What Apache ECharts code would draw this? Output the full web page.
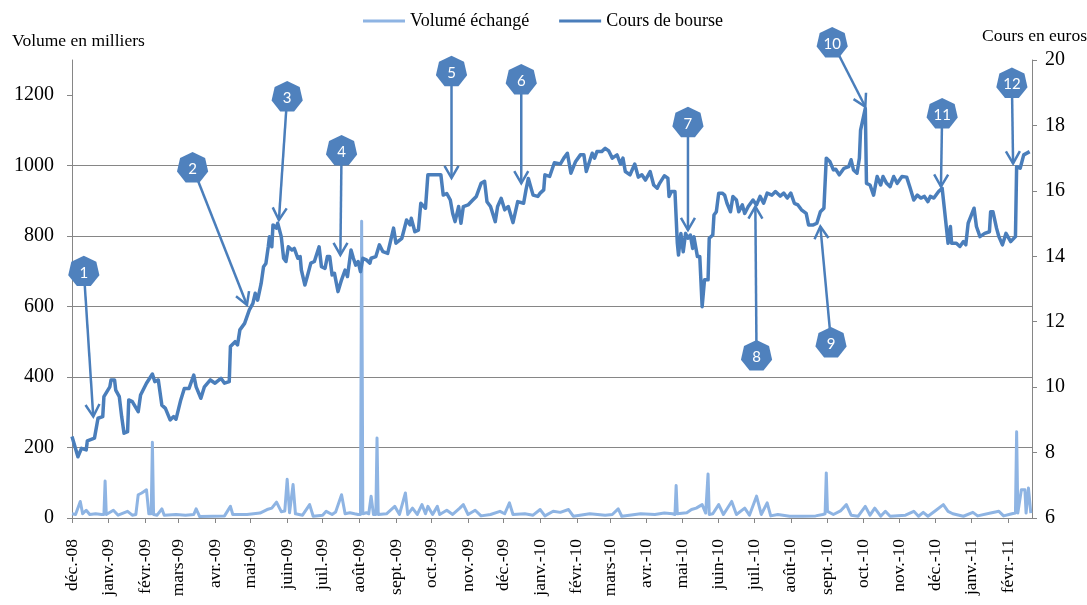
<!DOCTYPE html>
<html>
<head>
<meta charset="utf-8">
<script src="https://cdn.jsdelivr.net/npm/echarts@6/dist/echarts.min.js"></script>
<style>
html,body{margin:0;padding:0;background:#fff;}
#chart{width:1087px;height:605px;}
</style>
</head>
<body>
<div id="chart"></div>
<script>
// ---- Tick labels ----
const monthLabels = ['déc.-08','janv.-09','févr.-09','mars-09','avr.-09','mai-09','juin-09','juil.-09','août-09','sept.-09','oct.-09','nov.-09','déc.-09','janv.-10','févr.-10','mars-10','avr.-10','mai-10','juin-10','juil.-10','août-10','sept.-10','oct.-10','nov.-10','déc.-10','janv.-11','févr.-11'];
const volumeTicks = [0, 200, 400, 600, 800, 1000, 1200];
const axisStart = '2008-12-01';
const axisEnd = '2011-02-21';

// ---- Series: Cours de bourse (euros) ----
const coursBourse = [
['2008-12-01',8.49],['2008-12-06',7.87],['2008-12-09',8.13],['2008-12-13',8.08],['2008-12-14',8.36],['2008-12-20',8.44],['2008-12-23',9.05],['2008-12-27',9.10],['2008-12-28',9.71],
['2009-01-02',10.01],['2009-01-03',10.22],['2009-01-06',10.22],['2009-01-07',9.91],['2009-01-10',9.71],['2009-01-12',9.10],['2009-01-14',8.59],['2009-01-17',8.64],['2009-01-18',9.61],['2009-01-21',9.56],['2009-01-26',9.25],['2009-01-28',9.76],
['2009-02-02',10.12],['2009-02-07',10.40],['2009-02-09',10.17],['2009-02-12',10.22],['2009-02-15',9.45],['2009-02-18',9.35],['2009-02-22',9.00],['2009-02-25',9.10],['2009-02-27',9.02],
['2009-03-03',9.61],['2009-03-06',9.96],['2009-03-10',9.96],['2009-03-14',10.37],['2009-03-16',10.01],['2009-03-20',9.66],['2009-03-23',10.01],['2009-03-28',10.22],
['2009-04-01',10.12],['2009-04-06',10.27],['2009-04-09',10.12],['2009-04-13',10.17],['2009-04-14',11.24],['2009-04-18',11.39],['2009-04-20',11.29],['2009-04-22',11.75],['2009-04-26',11.95],['2009-04-27',11.90],['2009-04-30',12.36],
['2009-05-03',12.56],['2009-05-05',12.87],['2009-05-07',12.66],['2009-05-10',13.17],['2009-05-12',13.68],['2009-05-14',13.78],['2009-05-16',14.29],['2009-05-17',14.60],['2009-05-19',14.29],['2009-05-20',14.96],['2009-05-23',14.86],['2009-05-24',15.01],['2009-05-27',14.60],['2009-05-29',13.94],['2009-05-31',13.84],
['2009-06-02',14.29],['2009-06-05',14.19],['2009-06-07',14.24],['2009-06-10',13.94],['2009-06-12',13.99],['2009-06-13',13.58],['2009-06-16',13.12],['2009-06-18',13.38],['2009-06-21',13.79],['2009-06-24',13.84],['2009-06-28',14.29],['2009-06-30',13.68],
['2009-07-03',13.63],['2009-07-05',13.99],['2009-07-07',13.99],['2009-07-09',13.43],['2009-07-11',13.48],['2009-07-14',12.92],['2009-07-17',13.28],['2009-07-20',13.58],['2009-07-22',13.38],['2009-07-25',14.19],['2009-07-27',13.94],['2009-07-29',13.73],['2009-07-31',13.84],
['2009-08-02',13.53],['2009-08-04',13.94],['2009-08-07',13.89],['2009-08-10',13.79],['2009-08-11',13.94],['2009-08-15',13.99],['2009-08-18',14.35],['2009-08-21',14.14],['2009-08-25',14.09],['2009-08-30',14.86],
['2009-09-01',14.40],['2009-09-06',14.55],['2009-09-10',15.11],['2009-09-13',14.96],['2009-09-14',15.16],['2009-09-17',14.75],['2009-09-20',14.80],['2009-09-22',15.62],['2009-09-26',15.47],['2009-09-28',16.49],
['2009-10-04',16.49],['2009-10-09',16.49],['2009-10-11',15.87],['2009-10-14',15.92],['2009-10-17',15.72],['2009-10-19',15.31],['2009-10-21',15.06],['2009-10-24',15.52],['2009-10-26',15.01],['2009-10-28',15.52],
['2009-11-01',15.57],['2009-11-05',15.72],['2009-11-08',15.83],['2009-11-12',16.23],['2009-11-15',16.29],['2009-11-17',15.67],['2009-11-20',15.52],['2009-11-24',15.06],['2009-11-26',15.52],['2009-11-29',15.77],
['2009-12-02',15.42],['2009-12-05',15.52],['2009-12-09',15.03],['2009-12-13',15.67],['2009-12-18',15.62],['2009-12-20',16.03],['2009-12-22',16.38],['2009-12-26',15.87],['2009-12-30',15.83],
['2010-01-01',15.93],['2010-01-04',16.03],['2010-01-05',16.49],['2010-01-09',16.44],['2010-01-13',16.86],['2010-01-18',16.82],['2010-01-21',17.00],['2010-01-24',17.15],['2010-01-27',16.54],['2010-01-31',16.90],
['2010-02-04',17.10],['2010-02-07',17.10],['2010-02-09',16.59],['2010-02-14',17.15],['2010-02-16',17.00],['2010-02-18',17.20],['2010-02-22',17.20],['2010-02-25',17.30],['2010-02-28',17.22],
['2010-03-03',17.00],['2010-03-07',17.10],['2010-03-10',16.82],['2010-03-12',17.00],['2010-03-14',16.59],['2010-03-18',16.49],['2010-03-22',16.82],['2010-03-25',16.42],['2010-03-28',16.49],['2010-03-31',16.33],
['2010-04-04',16.59],['2010-04-07',16.18],['2010-04-10',16.08],['2010-04-12',16.23],['2010-04-16',16.46],['2010-04-19',16.39],['2010-04-20',15.83],['2010-04-22',15.98],['2010-04-25',15.98],['2010-04-27',14.40],['2010-04-28',14.04],['2010-04-30',14.70],
['2010-05-02',14.14],['2010-05-04',14.70],['2010-05-06',14.55],['2010-05-08',14.65],['2010-05-10',14.24],['2010-05-11',14.60],['2010-05-14',13.99],['2010-05-16',13.99],['2010-05-18',12.46],['2010-05-20',13.28],['2010-05-23',13.28],['2010-05-24',14.55],['2010-05-27',14.65],['2010-05-28',15.26],['2010-05-30',15.36],
['2010-06-01',15.93],['2010-06-04',15.93],['2010-06-06',15.87],['2010-06-08',15.62],['2010-06-11',15.36],['2010-06-13',15.83],['2010-06-16',15.72],['2010-06-18',15.36],['2010-06-21',15.57],['2010-06-23',15.31],['2010-06-26',15.52],['2010-06-30',15.72],
['2010-07-03',15.57],['2010-07-06',15.83],['2010-07-09',15.62],['2010-07-12',15.93],['2010-07-16',15.87],['2010-07-19',15.98],['2010-07-23',15.84],['2010-07-26',15.93],['2010-07-29',15.78],
['2010-08-01',15.93],['2010-08-04',15.62],['2010-08-07',15.57],['2010-08-10',15.42],['2010-08-14',15.31],['2010-08-16',14.96],['2010-08-20',14.96],['2010-08-23',15.01],['2010-08-26',15.36],['2010-08-29',15.47],['2010-08-31',17.00],
['2010-09-03',16.90],['2010-09-06',16.64],['2010-09-08',16.66],['2010-09-11',16.49],['2010-09-15',16.69],['2010-09-19',16.74],['2010-09-21',16.95],['2010-09-23',16.64],['2010-09-26',16.54],['2010-09-28',17.00],['2010-09-29',17.86],
['2010-10-03',18.52],['2010-10-04',16.23],['2010-10-07',16.18],['2010-10-10',15.87],['2010-10-13',16.44],['2010-10-16',16.18],['2010-10-18',16.44],['2010-10-21',16.23],['2010-10-24',16.13],['2010-10-27',16.44],['2010-10-30',16.23],
['2010-11-03',16.44],['2010-11-07',16.42],['2010-11-10',16.08],['2010-11-13',15.72],['2010-11-16',15.87],['2010-11-19',15.78],['2010-11-22',15.83],['2010-11-25',15.67],['2010-11-27',15.83],['2010-11-30',15.78],
['2010-12-04',15.98],['2010-12-07',16.08],['2010-12-09',15.42],['2010-12-12',14.40],['2010-12-14',14.91],['2010-12-15',14.40],['2010-12-19',14.40],['2010-12-22',14.30],['2010-12-25',14.45],['2010-12-27',14.35],['2010-12-29',15.01],
['2011-01-03',15.47],['2011-01-05',14.91],['2011-01-08',14.60],['2011-01-12',14.70],['2011-01-16',14.75],['2011-01-17',15.36],['2011-01-19',15.36],['2011-01-22',14.86],['2011-01-24',14.60],['2011-01-27',14.35],['2011-01-30',14.70],
['2011-02-03',14.45],['2011-02-07',14.60],['2011-02-08',16.74],['2011-02-11',16.69],['2011-02-14',17.10],['2011-02-19',17.20]
];

// ---- Series: Volume échangé (milliers) ----
const volumeEchange = [
['2008-12-01',12],['2008-12-04',10],['2008-12-08',47],['2008-12-10',12],['2008-12-13',22],['2008-12-16',10],['2008-12-21',12],['2008-12-26',10],['2008-12-28',10],['2008-12-29',105],['2008-12-30',10],
['2009-01-05',22],['2009-01-09',8],['2009-01-17',19],['2009-01-21',8],['2009-01-24',10],['2009-01-26',66],['2009-01-29',71],['2009-02-02',80],['2009-02-04',12],['2009-02-06',12],['2009-02-07',215],['2009-02-08',10],['2009-02-11',8],['2009-02-15',26],['2009-02-17',8],['2009-02-27',10],
['2009-03-07',8],['2009-03-14',10],['2009-03-16',26],['2009-03-19',4],['2009-03-30',5],['2009-04-09',6],['2009-04-14',33],['2009-04-16',10],['2009-04-28',10],
['2009-05-09',14],['2009-05-15',24],['2009-05-19',28],['2009-05-23',45],['2009-05-27',18],['2009-05-30',20],['2009-06-01',110],['2009-06-03',15],['2009-06-04',20],['2009-06-06',95],['2009-06-08',12],['2009-06-14',8],['2009-06-20',38],['2009-06-23',5],
['2009-07-01',8],['2009-07-04',19],['2009-07-09',10],['2009-07-12',17],['2009-07-17',66],['2009-07-20',12],['2009-07-24',15],['2009-07-28',12],['2009-07-31',10],
['2009-08-02',10],['2009-08-03',842],['2009-08-04',12],['2009-08-07',15],['2009-08-09',12],['2009-08-11',62],['2009-08-13',10],['2009-08-15',10],['2009-08-16',227],['2009-08-17',10],['2009-08-24',12],['2009-08-31',33],
['2009-09-04',10],['2009-09-09',71],['2009-09-11',10],['2009-09-15',28],['2009-09-19',10],['2009-09-23',38],['2009-09-26',12],['2009-09-28',33],['2009-10-02',10],['2009-10-06',33],['2009-10-08',10],['2009-10-14',22],['2009-10-19',10],['2009-10-25',28],['2009-10-28',38],
['2009-11-01',10],['2009-11-07',22],['2009-11-12',6],['2009-11-20',10],['2009-11-28',19],['2009-12-02',12],['2009-12-06',43],['2009-12-09',10],['2009-12-19',12],['2009-12-26',8],
['2010-01-01',24],['2010-01-05',6],['2010-01-12',19],['2010-01-18',16],['2010-01-25',24],['2010-01-29',5],['2010-02-12',12],['2010-02-25',8],['2010-03-03',10],['2010-03-08',26],['2010-03-11',5],['2010-03-27',12],
['2010-04-08',10],['2010-04-16',14],['2010-04-23',12],['2010-04-25',10],['2010-04-26',92],['2010-04-27',12],['2010-05-05',15],['2010-05-09',24],['2010-05-13',28],['2010-05-18',38],['2010-05-21',14],['2010-05-22',12],['2010-05-23',125],['2010-05-24',10],['2010-05-27',12],
['2010-06-01',38],['2010-06-05',10],['2010-06-12',47],['2010-06-16',10],['2010-06-23',28],['2010-06-27',8],['2010-07-03',62],['2010-07-07',10],['2010-07-12',43],['2010-07-15',6],['2010-07-21',10],['2010-07-31',5],
['2010-08-11',5],['2010-08-22',6],['2010-08-28',10],['2010-08-30',12],['2010-08-31',128],['2010-09-01',19],['2010-09-06',10],['2010-09-12',20],['2010-09-17',38],['2010-09-21',8],['2010-09-27',5],
['2010-10-03',33],['2010-10-07',8],['2010-10-11',28],['2010-10-16',5],['2010-10-20',19],['2010-10-24',5],['2010-11-06',8],['2010-11-13',19],['2010-11-17',5],['2010-11-21',16],['2010-11-25',5],
['2010-12-01',20],['2010-12-08',38],['2010-12-12',19],['2010-12-16',12],['2010-12-25',5],
['2011-01-02',16],['2011-01-06',6],['2011-01-17',14],['2011-01-24',19],['2011-01-28',6],['2011-02-04',12],['2011-02-07',14],['2011-02-08',245],['2011-02-09',14],['2011-02-10',14],['2011-02-12',80],['2011-02-15',80],['2011-02-16',14],['2011-02-18',85],['2011-02-20',14]
];

// ---- Numbered annotations (label position -> arrow tip), in date / euro coordinates ----
const annotationLabels = ['1','2','3','4','5','6','7','8','9','10','11','12'];
const annotationFrom = [['2008-12-11',13.56],['2009-03-13',16.73],['2009-06-01',18.90],['2009-07-17',17.25],['2009-10-18',19.67],['2009-12-16',19.42],['2010-05-06',18.11],['2010-07-03',10.98],['2010-09-04',11.38],['2010-09-05',20.55],['2010-12-07',18.38],['2011-02-04',19.31]];
const annotationTo = [['2008-12-19',9.10],['2009-04-28',12.51],['2009-05-25',15.11],['2009-07-16',14.04],['2009-10-18',16.39],['2009-12-16',16.23],['2010-05-06',14.80],['2010-07-02',15.52],['2010-08-26',14.91],['2010-10-03',18.57],['2010-12-06',16.13],['2011-02-05',16.84]];

function toTime(s){ const p = s.split('-').map(Number); return new Date(p[0], p[1]-1, p[2]).getTime(); }
const monthTicks = monthLabels.map((_, i) => new Date(2008, 11 + i, 1).getTime());
const toSeries = arr => arr.map(d => [toTime(d[0]), d[1]]);

const SERIF = 'Liberation Serif';
const GRID = '#868686';
const DARK = '#4A7EBB';
const LIGHT = '#8EB4E3';

const chart = echarts.init(document.getElementById('chart'));
chart.setOption({
  animation: false,
  backgroundColor: '#fff',
  title: [
    {text: 'Volume en milliers', left: 7, top: 27, textStyle: {fontFamily: SERIF, fontSize: 17.5, fontWeight: 'normal', color: '#000'}},
    {text: 'Cours en euros', right: -5, top: 22, textStyle: {fontFamily: SERIF, fontSize: 17.5, fontWeight: 'normal', color: '#000'}}
  ],
  legend: {
    left: 358, top: 7, itemWidth: 42, itemHeight: 12, itemGap: 30,
    icon: 'path://M0,4.5 L42,4.5 L42,7.5 L0,7.5 Z',
    textStyle: {fontFamily: SERIF, fontSize: 18, color: '#000'},
    data: [{name: 'Volumé échangé', itemStyle: {color: LIGHT}}, {name: 'Cours de bourse', itemStyle: {color: DARK}}]
  },
  grid: {left: 72, right: 55, top: 60, bottom: 87, containLabel: false},
  xAxis: {
    type: 'value', min: toTime(axisStart), max: toTime(axisEnd),
    axisLine: {lineStyle: {color: GRID, width: 1}},
    axisTick: {show: true, customValues: monthTicks, length: 5, lineStyle: {color: GRID}},
    axisLabel: {
      customValues: monthTicks, rotate: 90, margin: 21,
      fontFamily: SERIF, fontSize: 17.5, color: '#000',
      formatter: function (v) {
        const d = new Date(v);
        const idx = (d.getFullYear() - 2008) * 12 + d.getMonth() - 11;
        return monthLabels[idx] || '';
      }
    },
    splitLine: {show: false}
  },
  yAxis: [
    {
      type: 'value', min: 0, max: 1300, interval: 200, position: 'left',
      axisLine: {show: true, lineStyle: {color: GRID}},
      axisTick: {show: true, customValues: volumeTicks, length: 5, lineStyle: {color: GRID}},
      axisLabel: {customValues: volumeTicks, fontFamily: SERIF, fontSize: 20, color: '#000', margin: 18, formatter: v => String(v)},
      splitLine: {show: true, showMaxLine: false, lineStyle: {color: GRID, width: 1}}
    },
    {
      type: 'value', min: 6, max: 20, interval: 2, position: 'right',
      axisLine: {show: true, lineStyle: {color: GRID}},
      axisTick: {show: true, length: 5, lineStyle: {color: GRID}},
      axisLabel: {fontFamily: SERIF, fontSize: 20, color: '#000', margin: 13, formatter: v => String(v)},
      splitLine: {show: false}
    }
  ],
  series: [
    {
      name: 'Volumé échangé', type: 'line', yAxisIndex: 0, showSymbol: false, symbol: 'none',
      data: toSeries(volumeEchange), lineStyle: {color: LIGHT, width: 3, join: 'round'}, itemStyle: {color: LIGHT}, z: 2
    },
    {
      name: 'Cours de bourse', type: 'line', yAxisIndex: 1, showSymbol: false, symbol: 'none',
      data: toSeries(coursBourse), lineStyle: {color: DARK, width: 3.5, join: 'round'}, itemStyle: {color: DARK}, z: 3
    }
  ]
});

// ---- Annotation graphics, placed from data coordinates ----
function px(pt){ return chart.convertToPixel({xAxisIndex: 0, yAxisIndex: 1}, [toTime(pt[0]), pt[1]]); }
const elements = [];
const R = 16;
annotationLabels.forEach(function (lab, i) {
  const a = px(annotationFrom[i]);
  const b = px(annotationTo[i]);
  const ang = Math.atan2(b[1] - a[1], b[0] - a[0]);
  const L = 14, spread = Math.PI / 6;
  const p1 = [b[0] - L * Math.cos(ang - spread), b[1] - L * Math.sin(ang - spread)];
  const p2 = [b[0] - L * Math.cos(ang + spread), b[1] - L * Math.sin(ang + spread)];
  elements.push({type: 'line', z: 100, shape: {x1: a[0], y1: a[1], x2: b[0], y2: b[1]}, style: {stroke: DARK, lineWidth: 2.5}});
  elements.push({type: 'polyline', z: 100, shape: {points: [p1, b, p2]}, style: {stroke: DARK, lineWidth: 2.5, fill: null}});
  const pts = [];
  for (let k = 0; k < 7; k++) {
    const t = -Math.PI / 2 + k * 2 * Math.PI / 7;
    pts.push([a[0] + R * Math.cos(t), a[1] + 1 + R * Math.sin(t)]);
  }
  elements.push({type: 'polygon', z: 101, shape: {points: pts}, style: {fill: '#4F81BD'}});
  elements.push({type: 'text', z: 102, x: a[0], y: a[1] + 2, style: {text: lab, fill: '#fff', font: '15px Lato', align: 'center', verticalAlign: 'middle'}});
});
chart.setOption({graphic: {elements: elements}});
</script>
</body>
</html>
